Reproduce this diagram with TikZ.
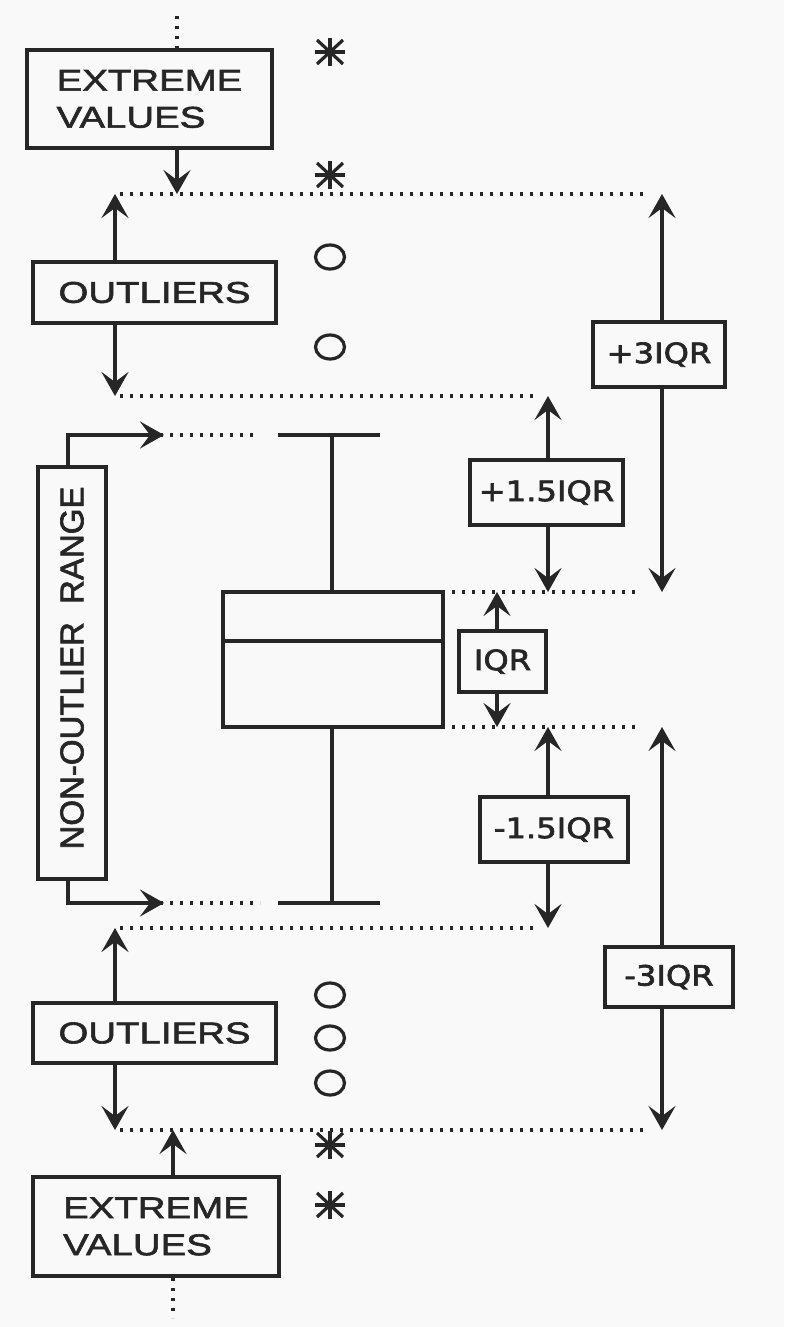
\documentclass[tikz,border=0pt]{standalone}
\usepackage{fontspec}
\usetikzlibrary{arrows.meta,calc}
\newfontfamily\lblfont[FakeStretch=1.28,FakeBold=2]{Liberation Sans}
\newfontfamily\norfont[FakeBold=2]{Liberation Sans}
\newfontfamily\iqrfont[FakeStretch=1.15,FakeBold=2.4]{DejaVu Sans}
\definecolor{ink}{RGB}{38,38,38}
\definecolor{bg}{RGB}{249,249,249}
\tikzset{
  lbox/.style={draw=ink, line width=3.4pt, fill=bg, inner sep=0pt, text=ink},
  bigtxt/.style={font=\lblfont\fontsize{30}{37}\selectfont, align=left},
  iqrtxt/.style={font=\iqrfont\fontsize{28}{30}\selectfont},
  arr/.style={draw=ink, line width=3.4pt, -{Stealth[length=24pt,width=27pt,inset=10pt]}},
  refline/.style={draw=ink, line width=3.2pt, dash pattern=on 3.2pt off 6.8pt},
  solid line/.style={draw=ink, line width=3.4pt},
  outlier/.style={draw=ink, line width=3.2pt},
}
\newcommand{\asterisk}[1]{%
  \draw[ink, line width=3.6pt] ($#1+(-15,0)$) -- ($#1+(15,0)$);
  \draw[ink, line width=3.6pt] ($#1+(0,-14)$) -- ($#1+(0,14)$);
  \draw[ink, line width=3.2pt] ($#1+(-13,-12)$) -- ($#1+(13,12)$);
  \draw[ink, line width=3.2pt] ($#1+(-13,12)$) -- ($#1+(13,-12)$);
}
\begin{document}
\begin{tikzpicture}[x=1pt,y=-1pt]
\fill[bg] (0,0) rectangle (784,1327);
\useasboundingbox (0,0) rectangle (784,1327);

% reference (dotted) levels
\draw[refline] (120,194) -- (647,194);
\draw[refline] (120,396) -- (537,396);
\draw[refline] (452,592) -- (637,592);
\draw[refline] (452,727) -- (637,727);
\draw[refline] (120,928) -- (538,928);
\draw[refline] (120,1130) -- (647,1130);
\draw[refline] (160,435) -- (258,435);
\draw[refline] (160,903) -- (260,903);
\draw[refline] (177,16) -- (177,50);
\draw[refline] (173,1278) -- (173,1318);

% label boxes
\node[lbox, bigtxt, minimum width=245pt, minimum height=98pt] (ev1) at (149.5,99) {EXTREME\\VALUES};
\node[lbox, bigtxt, minimum width=243pt, minimum height=61pt] (out1) at (154.5,292.5) {OUTLIERS};
\node[lbox, bigtxt, minimum width=243pt, minimum height=60pt] (out2) at (154.5,1033) {OUTLIERS};
\node[lbox, bigtxt, minimum width=246pt, minimum height=99pt] (ev2) at (156,1226.5) {EXTREME\\VALUES};
\node[lbox, minimum width=68pt, minimum height=412pt] (nor) at (72,673) {};
\node[text=ink, font=\norfont\fontsize{33}{36}\selectfont, rotate=90] (nortxt) at (72,668) {NON-OUTLIER\hspace{0.55em}RANGE};

\node[lbox, iqrtxt, minimum width=132pt, minimum height=65pt] (p3) at (659,354.5) {+3IQR};
\node[lbox, iqrtxt, minimum width=153pt, minimum height=65pt] (p15) at (546.5,492.5) {+1.5IQR};
\node[lbox, iqrtxt, minimum width=87pt, minimum height=61pt] (iqr) at (502.5,661.5) {IQR};
\node[lbox, iqrtxt, minimum width=148pt, minimum height=65pt] (m15) at (554,829.5) {-1.5IQR};
\node[lbox, iqrtxt, minimum width=128pt, minimum height=60pt] (m3) at (669,977) {-3IQR};

% arrow tips
\coordinate (tev1) at (177,194);
\coordinate (tout1u) at (115,194);
\coordinate (tout1d) at (115,396);
\coordinate (tout2u) at (115,928);
\coordinate (tout2d) at (115,1130);
\coordinate (tev2) at (173,1130);
\coordinate (tp3u) at (662,194);
\coordinate (tp3d) at (662,592);
\coordinate (tp15u) at (548,396);
\coordinate (tp15d) at (548,592);
\coordinate (tiqru) at (497,592);
\coordinate (tiqrd) at (497,727);
\coordinate (tm15u) at (548,727);
\coordinate (tm15d) at (548,928);
\coordinate (tm3u) at (662,727);
\coordinate (tm3d) at (662,1130);
\coordinate (tnoru) at (164,435);
\coordinate (tnord) at (164,903);

\draw[arr] (ev1.south -| tev1) -- (tev1);
\draw[arr] (out1.north -| tout1u) -- (tout1u);
\draw[arr] (out1.south -| tout1d) -- (tout1d);
\draw[arr] (out2.north -| tout2u) -- (tout2u);
\draw[arr] (out2.south -| tout2d) -- (tout2d);
\draw[arr] (ev2.north -| tev2) -- (tev2);
\draw[arr] (p3.north -| tp3u) -- (tp3u);
\draw[arr] (p3.south -| tp3d) -- (tp3d);
\draw[arr] (p15.north -| tp15u) -- (tp15u);
\draw[arr] (p15.south -| tp15d) -- (tp15d);
\draw[arr] (iqr.north -| tiqru) -- (tiqru);
\draw[arr] (iqr.south -| tiqrd) -- (tiqrd);
\draw[arr] (m15.north -| tm15u) -- (tm15u);
\draw[arr] (m15.south -| tm15d) -- (tm15d);
\draw[arr] (m3.north -| tm3u) -- (tm3u);
\draw[arr] (m3.south -| tm3d) -- (tm3d);
\draw[arr] ($(nor.north)+(-4,0)$) |- (tnoru);
\draw[arr] ($(nor.south)+(-4,0)$) |- (tnord);

% box plot
\draw[solid line] (278,435) -- (380,435);
\draw[solid line] (332,435) -- (332,592);
\draw[solid line] (223,592) rectangle (443,727);
\draw[solid line] (223,641) -- (443,641);
\draw[solid line] (332,727) -- (332,903);
\draw[solid line] (278,903) -- (380,903);

% outlier markers
\draw[outlier] (330,257) ellipse [x radius=14.5, y radius=12];
\draw[outlier] (330,347) ellipse [x radius=14.5, y radius=12];
\draw[outlier] (330,995) ellipse [x radius=14.5, y radius=12];
\draw[outlier] (330,1038) ellipse [x radius=14.5, y radius=12];
\draw[outlier] (330,1083) ellipse [x radius=14.5, y radius=12];

% extreme markers
\asterisk{(330,52)}
\asterisk{(330,175)}
\asterisk{(330,1145)}
\asterisk{(330,1205)}
\end{tikzpicture}
\end{document}
